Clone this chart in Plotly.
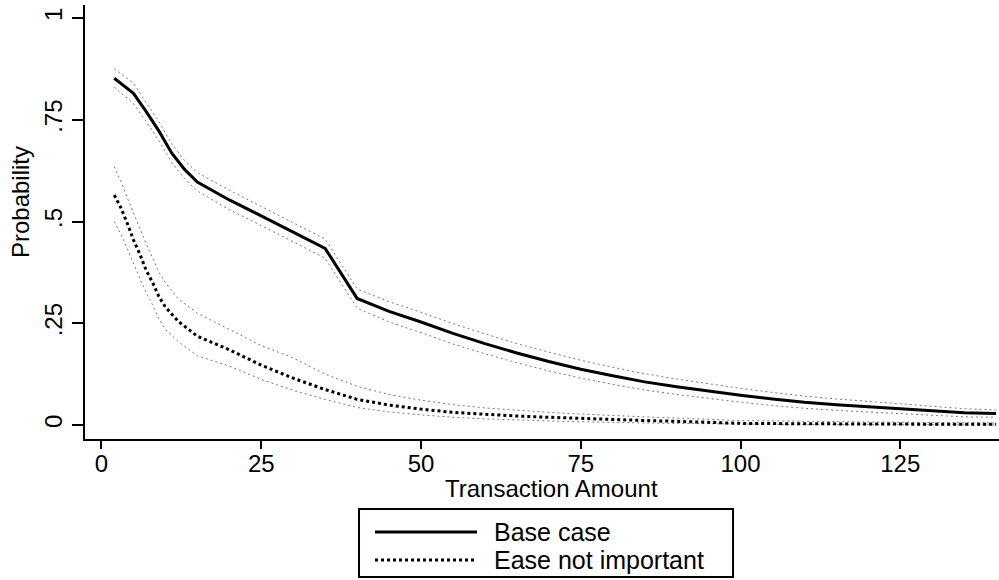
import plotly.graph_objects as go

# ---- data ----
base_x = [2, 5, 7, 9, 11, 13, 15, 20, 25, 30, 35, 40, 45, 50, 55, 60, 65, 70, 75, 80,
          85, 90, 95, 100, 105, 110, 115, 120, 125, 130, 135, 140]
base_y = [.852, .815, .770, .722, .668, .628, .597, .553, .514, .474, .434, .311, .279, .253,
          .225, .200, .177, .156, .137, .121, .106, .094, .083, .073, .064, .056, .050, .045,
          .040, .034, .030, .028]
base_hi = [.875, .840, .792, .745, .690, .650, .620, .577, .537, .497, .457, .334, .303, .277,
           .249, .224, .200, .179, .159, .142, .126, .113, .101, .090, .080, .071, .064, .058,
           .052, .045, .040, .037]
base_lo = [.830, .790, .746, .698, .645, .605, .575, .529, .490, .450, .410, .287, .253, .227,
           .199, .175, .153, .133, .115, .100, .086, .075, .065, .056, .048, .041, .036, .032,
           .028, .023, .020, .019]

ease_x = [2, 3, 4, 5, 6, 7, 8, 9, 10, 12, 15, 20, 25, 30, 35, 40, 45, 50, 55, 60, 65, 70,
          75, 80, 85, 90, 95, 100, 110, 120, 130, 140]
ease_y = [.565, .535, .497, .455, .420, .380, .350, .315, .290, .255, .218, .185, .147, .115,
          .087, .063, .049, .039, .031, .026, .022, .019, .016, .014, .011, .009, .006, .004,
          .003, .002, .002, .002]
ease_hi = [.635, .600, .560, .520, .480, .445, .410, .375, .350, .310, .275, .235, .195, .165,
           .125, .095, .075, .061, .050, .042, .036, .031, .027, .023, .020, .017, .014, .011,
           .009, .007, .006, .005]
ease_lo = [.500, .470, .435, .395, .360, .325, .295, .260, .235, .205, .170, .145, .112, .085,
           .063, .043, .032, .025, .019, .015, .012, .010, .008, .006, .005, .004, .003, .002,
           .001, .001, .000, .000]

x_ticks = [0, 25, 50, 75, 100, 125]
y_ticks = [0, 0.25, 0.5, 0.75, 1]
y_tick_text = ["0", ".25", ".5", ".75", "1"]
series_names = ["Base case", "Ease not important"]

FONT = "Liberation Sans, Arial, sans-serif"
CI_STYLE = dict(color="#7a7a7a", width=1, dash="2px,3px")
BASE_LINE = dict(color="black", width=3)
EASE_LINE = dict(color="black", width=3, dash="dot")

fig = go.Figure()

# confidence bands (faint dotted lines)
for xs, ys in [(base_x, base_hi), (base_x, base_lo), (ease_x, ease_hi), (ease_x, ease_lo)]:
    fig.add_trace(go.Scatter(x=xs, y=ys, mode="lines", line=CI_STYLE,
                             showlegend=False, hoverinfo="skip"))

fig.add_trace(go.Scatter(x=base_x, y=base_y, mode="lines", name=series_names[0],
                         line=BASE_LINE, showlegend=False))
fig.add_trace(go.Scatter(x=ease_x, y=ease_y, mode="lines", name=series_names[1],
                         line=EASE_LINE, showlegend=False))

# ---- legend box drawn below the plot (paper coordinates) ----
shapes = [
    dict(type="rect", xref="paper", yref="paper", x0=0.2998, x1=0.7090, y0=-0.318, y1=-0.1613,
         line=dict(color="black", width=2), fillcolor="white", layer="above"),
    dict(type="line", xref="paper", yref="paper", x0=0.3173, x1=0.4289, y0=-0.2143, y1=-0.2143,
         line=BASE_LINE),
    dict(type="line", xref="paper", yref="paper", x0=0.3173, x1=0.4289, y0=-0.2788, y1=-0.2788,
         line=EASE_LINE),
]

annotations = [
    dict(text="Transaction Amount", xref="paper", yref="paper", x=0.51, y=-0.113,
         xanchor="center", yanchor="middle", showarrow=False, font=dict(size=24)),
    dict(text="Probability", xref="paper", yref="paper", x=-0.0711, y=0.546,
         xanchor="center", yanchor="middle", textangle=-90, showarrow=False,
         font=dict(size=24)),
    dict(text=series_names[0], xref="paper", yref="paper", x=0.4453, y=-0.2143,
         xanchor="left", yanchor="middle", showarrow=False, font=dict(size=25)),
    dict(text=series_names[1], xref="paper", yref="paper", x=0.4453, y=-0.2788,
         xanchor="left", yanchor="middle", showarrow=False, font=dict(size=25)),
]

fig.update_layout(
    width=999, height=580, autosize=False,
    margin=dict(l=85, r=0, t=5, b=141, autoexpand=False),
    paper_bgcolor="white", plot_bgcolor="white",
    font=dict(family=FONT, size=24, color="black"),
    showlegend=False,
    xaxis=dict(range=[-2.58, 140.45], tickvals=x_ticks, showgrid=False, zeroline=False,
               showline=True, linecolor="black", linewidth=2, automargin=False,
               ticks="outside", ticklen=8, tickwidth=2, tickcolor="black",
               tickfont=dict(size=24), ticklabelstandoff=-6),
    yaxis=dict(range=[-0.0344, 1.032], tickvals=y_ticks, ticktext=y_tick_text,
               tickangle=-90, showgrid=False, zeroline=False, automargin=False,
               showline=True, linecolor="black", linewidth=2,
               ticks="outside", ticklen=11, tickwidth=2, tickcolor="black",
               tickfont=dict(size=24)),
    shapes=shapes,
    annotations=annotations,
)

fig.write_html("out.html", config={"displayModeBar": False},
               post_script="document.body.style.margin='0';")
